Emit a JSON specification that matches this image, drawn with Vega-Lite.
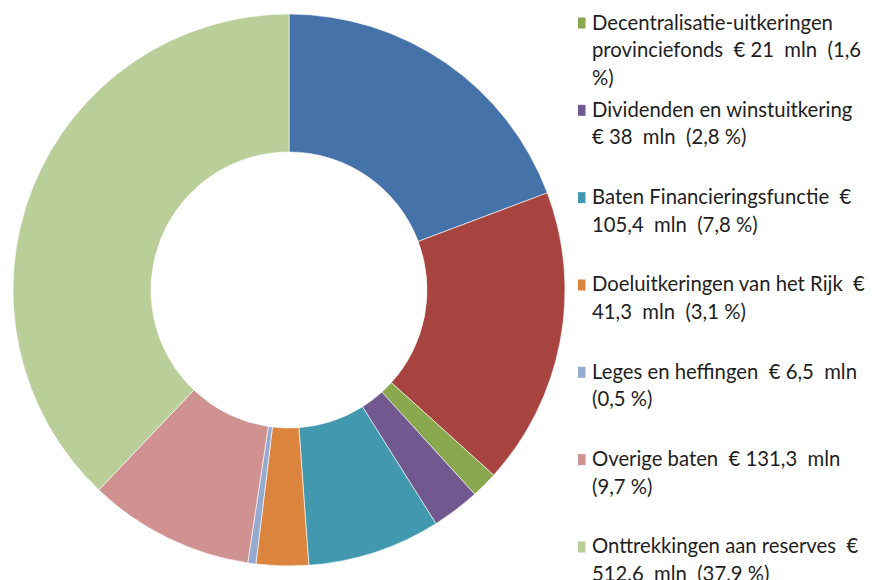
{
  "$schema": "https://vega.github.io/schema/vega-lite/v6.json",
  "padding": 0,
  "spacing": 0,
  "background": "white",
  "config": {"view": {"stroke": null}, "font": "Lato"},
  "datasets": {
    "slices": [
      {"idx": 0, "name": "Algemene uitkering provinciefonds", "value": 260.7, "label": "Algemene uitkering\nprovinciefonds  € 260,7  mln\n(19,3 %)"},
      {"idx": 1, "name": "Opcenten motorrijtuigenbelasting", "value": 235.7, "label": "Opcenten motorrijtuigen-\nbelasting  € 235,7  mln\n(17,4 %)"},
      {"idx": 2, "name": "Decentralisatie-uitkeringen provinciefonds", "value": 21, "label": "Decentralisatie-uitkeringen\nprovinciefonds\u00a0 € 21\u00a0 mln\u00a0 (1,6\n%)"},
      {"idx": 3, "name": "Dividenden en winstuitkering", "value": 38, "label": "Dividenden en winstuitkering\n€ 38\u00a0 mln\u00a0 (2,8 %)"},
      {"idx": 4, "name": "Baten Financieringsfunctie", "value": 105.4, "label": "Baten Financieringsfunctie\u00a0 €\n105,4\u00a0 mln\u00a0 (7,8 %)"},
      {"idx": 5, "name": "Doeluitkeringen van het Rijk", "value": 41.3, "label": "Doeluitkeringen van het Rijk\u00a0 €\n41,3\u00a0 mln\u00a0 (3,1 %)"},
      {"idx": 6, "name": "Leges en heffingen", "value": 6.5, "label": "Leges en heffingen\u00a0 € 6,5\u00a0 mln\n(0,5 %)"},
      {"idx": 7, "name": "Overige baten", "value": 131.3, "label": "Overige baten\u00a0 € 131,3\u00a0 mln\n(9,7 %)"},
      {"idx": 8, "name": "Onttrekkingen aan reserves", "value": 512.6, "label": "Onttrekkingen aan reserves\u00a0 €\n512,6\u00a0 mln\u00a0 (37,9 %)"}
    ]
  },
  "hconcat": [
    {
      "width": 578,
      "height": 580,
      "data": {"name": "slices"},
      "mark": {"type": "arc", "radius": 276, "radius2": 138, "stroke": "white", "strokeWidth": 0.6},
      "encoding": {
        "theta": {"field": "value", "type": "quantitative", "stack": true},
        "order": {"field": "idx", "type": "quantitative", "sort": "ascending"},
        "color": {
          "field": "idx",
          "type": "nominal",
          "legend": null,
          "scale": {
            "domain": [0, 1, 2, 3, 4, 5, 6, 7, 8],
            "range": ["#4572A8", "#A8443F", "#8AA84D", "#71588F", "#4198AF", "#DB843D", "#94AACF", "#D09290", "#B9CE98"]
          }
        }
      }
    },
    {
      "width": 296,
      "height": 580,
      "data": {"name": "slices"},
      "encoding": {
        "x": {"datum": 0, "type": "quantitative", "scale": {"domain": [0, 1]}, "axis": null},
        "y": {"field": "idx", "type": "quantitative", "scale": {"domain": [1.7366, 8.3781], "reverse": true, "nice": false, "zero": false}, "axis": null}
      },
      "layer": [
        {
          "mark": {"type": "point", "shape": "square", "filled": true, "size": 121, "opacity": 1, "xOffset": 2, "clip": true},
          "encoding": {
            "color": {
              "field": "idx",
              "type": "nominal",
              "legend": null,
              "scale": {
                "domain": [0, 1, 2, 3, 4, 5, 6, 7, 8],
                "range": ["#4572A8", "#A8443F", "#8AA84D", "#71588F", "#4198AF", "#DB843D", "#94AACF", "#D09290", "#B9CE98"]
              }
            }
          }
        },
        {
          "mark": {"type": "text", "align": "left", "baseline": "alphabetic", "dx": 14, "dy": 6.5, "fontSize": 20.3, "lineHeight": 27.5, "lineBreak": "\n", "color": "#1e1e1e", "clip": true},
          "encoding": {"text": {"field": "label"}}
        }
      ]
    }
  ]
}
